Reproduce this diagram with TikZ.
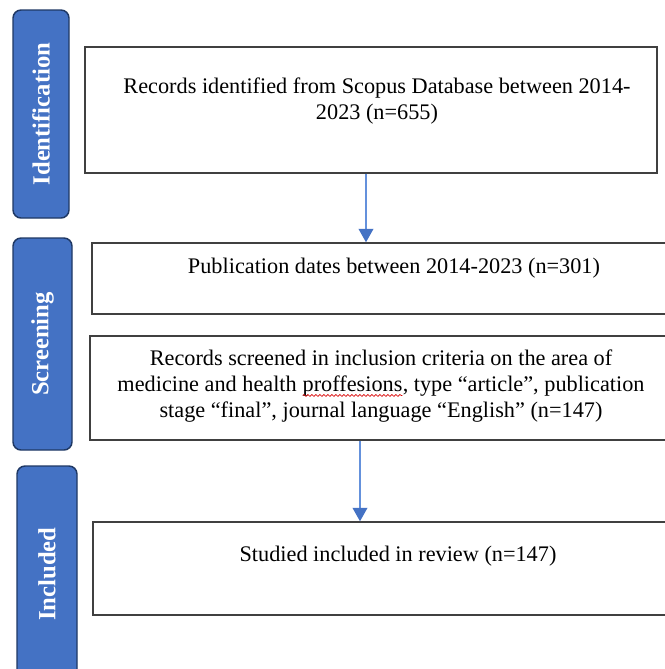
\documentclass[tikz,border=0pt]{standalone}
\usepackage{fontspec}
\setmainfont{Liberation Serif}
\usetikzlibrary{arrows.meta,positioning,decorations.pathmorphing}
\definecolor{tabblue}{RGB}{68,114,196}
\definecolor{tabedge}{RGB}{31,56,100}
\definecolor{arrline}{RGB}{100,145,220}
\newcommand\squig[1]{\tikz[baseline=(sq.base)]{\node[inner sep=0pt,outer sep=0pt] (sq) {#1};
  \draw[red!85!black,line width=.5pt,decorate,decoration={snake,amplitude=.7pt,segment length=3pt}]
    ([yshift=-3pt]sq.base west) -- ([yshift=-3pt]sq.base east);}}

\begin{document}
\begin{tikzpicture}[
  x=0.75pt,y=-0.75pt,
  box/.style={draw=black!75,line width=1.1pt,inner sep=0pt},
  txt/.style={font=\fontsize{16.7}{19.7}\selectfont,align=center,inner sep=0pt},
  tab/.style={draw=tabedge,fill=tabblue,line width=1.1pt,rounded corners=6pt,
    rotate=90,text=white,font=\fontsize{18.5}{20}\selectfont\bfseries},
  arr/.style={arrline,line width=1pt,-{Triangle[length=10pt,width=11pt,color=tabblue]}}]
  \path[use as bounding box] (0,0) rectangle (665,669);

  % Stage tabs on the left.
  \node[tab,minimum width=156pt,minimum height=42pt] (ident) at (41,114) {Identification};
  \node[tab,minimum width=159pt,minimum height=44.25pt] (screen) at (42.5,344) {Screening};
  \node[tab,minimum width=162pt,minimum height=45pt] (incl) at (47,574) {Included};

  % Flow boxes.
  \node[box,minimum width=429pt,minimum height=94.5pt] (rec) at (371,110) {};
  \node[txt] (rectxt) at (377,101)
    {Records identified from Scopus Database between 2014-\\2023 (n=655)};
  \node[box,minimum width=456pt,minimum height=53.25pt] (pub) at (396,278.5) {};
  \node[txt] (pubtxt) at (394,268) {Publication dates between 2014-2023 (n=301)};
  \node[box,minimum width=436.5pt,minimum height=78pt] (scr) at (381,388) {};
  \node[txt] (scrtxt) at (381,386)
    {Records screened in inclusion criteria on the area of\\
     medicine and health \squig{proffesions}, type “article”, publication\\
     stage “final”, journal language “English” (n=147)};
  \node[box,minimum width=455.25pt,minimum height=69.75pt] (stud) at (396.5,568.5) {};
  \node[txt] (studtxt) at (398,556) {Studied included in review (n=147)};

  % Connectors.
  \draw[arr] ([xshift=-3.75pt]rec.south) -- ([xshift=-3.75pt]rec.south |- pub.north);
  \draw[arr] ([xshift=-15.75pt]scr.south) -- ([xshift=-15.75pt]scr.south |- stud.north);
\end{tikzpicture}
\end{document}
